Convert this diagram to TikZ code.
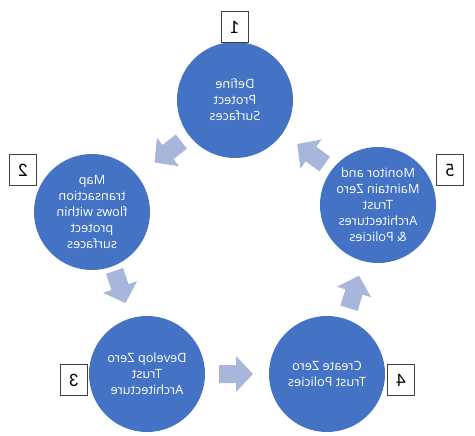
\documentclass[tikz,border=0pt]{standalone}
\usepackage{fontspec}
\setmainfont{Open Sans}
\newfontfamily\numfont{Carlito}
\definecolor{circblue}{HTML}{4472C4}
\definecolor{arrowblue}{HTML}{A9B6DB}
\definecolor{boxline}{HTML}{404040}
\begin{document}
\begin{tikzpicture}[x=1pt,y=-1pt,
  stage/.style={circle,fill=circblue,minimum size=116pt,inner sep=0pt,text=white,
    align=center,font=\fontsize{12.8}{16}\selectfont,xscale=-1},
  numbox/.style={draw=boxline,line width=0.9pt,fill=white,minimum width=27pt,minimum height=31pt,
    inner sep=0pt,font=\numfont\fontsize{19}{19}\selectfont,xscale=-1},
  blockarrow/.pic={\fill[arrowblue] (-17,-9) -- (0,-9) -- (0,-18) -- (17,0) -- (0,18) -- (0,9) -- (-17,9) -- cycle;}
]
\useasboundingbox (0,0) rectangle (475,436);
\node[stage] (c1) at (235,100) {Define\\Protect\\Surfaces};
\node[stage] (c2) at (92,212) {Map\\transaction\\flows within\\protect\\surfaces};
\node[stage] (c3) at (147,374) {Develop Zero\\Trust\\Architecture};
\node[stage] (c4) at (327,374) {Create Zero\\Trust Policies};
\node[stage] (c5) at (378,205) {Monitor and\\Maintain Zero\\Trust\\Architectures\\\& Policies};
\node[numbox] (b1) at (235,27) {1};
\node[numbox] (b2) at (23,170) {2};
\node[numbox] (b3) at (74,380) {3};
\node[numbox] (b4) at (401,380) {4};
\node[numbox] (b5) at (450,170) {5};
\pic[rotate=218] at (168,152) {blockarrow};
\pic[rotate=289] at (120,287) {blockarrow};
\pic[rotate=0] at (236,374) {blockarrow};
\pic[rotate=73] at (354,292) {blockarrow};
\pic[rotate=144] at (311,154) {blockarrow};
\end{tikzpicture}
\end{document}
